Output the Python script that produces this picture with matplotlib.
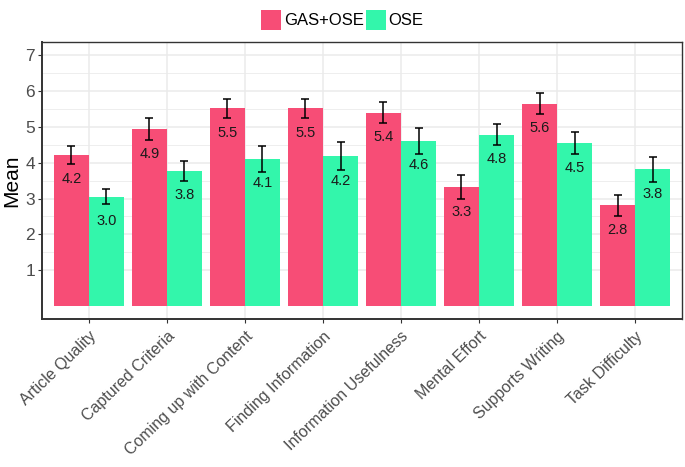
import matplotlib.pyplot as plt
import numpy as np

plt.rcParams['font.family'] = ['Liberation Sans', 'DejaVu Sans']

categories = ["Article Quality", "Captured Criteria", "Coming up with Content",
              "Finding Information", "Information Usefulness", "Mental Effort",
              "Supports Writing", "Task Difficulty"]
gas_mean = [4.22, 4.93, 5.51, 5.51, 5.39, 3.31, 5.64, 2.81]
gas_err = [0.25, 0.30, 0.26, 0.27, 0.28, 0.33, 0.29, 0.30]
ose_mean = [3.05, 3.77, 4.10, 4.18, 4.60, 4.77, 4.54, 3.81]
ose_err = [0.21, 0.27, 0.37, 0.38, 0.36, 0.29, 0.30, 0.35]
series = [("GAS+OSE", gas_mean, gas_err, "#F74D76"),
          ("OSE", ose_mean, ose_err, "#33F6AB")]

fig = plt.figure(figsize=(6.85, 4.67), dpi=100)
ax = fig.add_axes([0.0613, 0.3169, 0.9343, 0.5931])

x = np.arange(1, len(categories) + 1)
w = 0.45
for i, (name, m, e, c) in enumerate(series):
    pos = x + (i - 0.5) * w
    ax.bar(pos, m, width=w, color=c, label=name, zorder=2)
    ax.errorbar(pos, m, yerr=e, fmt='none', ecolor='black', elinewidth=1.1,
                capsize=3.2, capthick=1.1, zorder=3)
    for px, v in zip(pos, m):
        ax.annotate(f"{v:.1f}", (px, v), xytext=(0, -17.6), textcoords='offset points',
                    ha='center', va='center', fontsize=10.5, color='#1A1A1A', zorder=4)

ax.set_xlim(0.4, 8.6)
ax.set_ylim(-0.35, 7.35)
ax.set_yticks(range(1, 8))
ax.set_yticks(np.arange(1.5, 7.0, 1.0), minor=True)
ax.set_xticks(x)
ax.set_xticklabels(categories, rotation=44, ha='right', rotation_mode='anchor',
                   fontsize=11.5, color='#4D4D4D')
ax.tick_params(axis='y', labelsize=12.5, labelcolor='#4D4D4D', color='#333333',
               length=3, pad=2)
ax.tick_params(axis='y', which='minor', length=0)
ax.tick_params(axis='x', color='#333333', length=3, pad=4)
ax.grid(True, which='major', color='#EBEBEB', linewidth=1.1, zorder=0)
ax.grid(True, which='minor', axis='y', color='#EBEBEB', linewidth=0.6, zorder=0)
ax.set_axisbelow(True)
for s in ax.spines.values():
    s.set_color('#333333')
    s.set_linewidth(1.0)
ax.spines['left'].set_linewidth(1.4)
ax.spines['bottom'].set_linewidth(1.4)
ax.set_ylabel("Mean", fontsize=15, color='black', labelpad=3)

fig.legend(loc='upper center', bbox_to_anchor=(0.5, 1.01), ncol=2, frameon=False,
           fontsize=12, handlelength=1.2, handleheight=1.4, handletextpad=0.15,
           columnspacing=0.15)

fig.savefig("out.png", dpi=100)
